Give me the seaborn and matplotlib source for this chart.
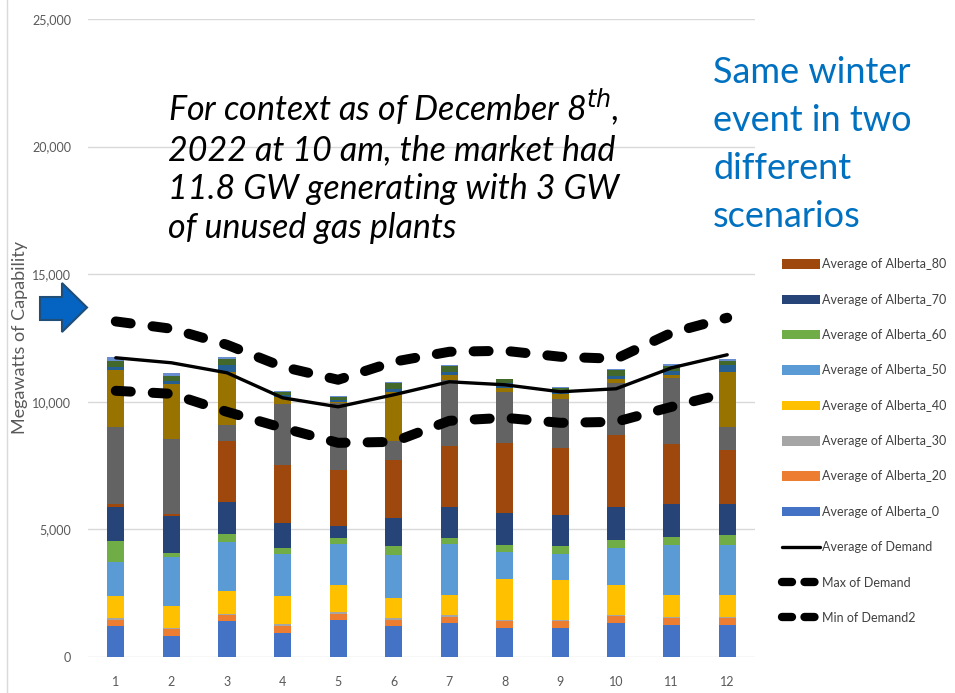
import numpy as np
import pandas as pd
import matplotlib
matplotlib.use("Agg")
import matplotlib.pyplot as plt
import seaborn as sns
from matplotlib.patches import Patch, Polygon
from matplotlib.lines import Line2D

# month numbers on the x axis
months = list(range(1, 13))

# stacked capability layers (MW), bottom to top
alberta_0 = [1216, 836, 1399, 954, 1464, 1216, 1333, 1150, 1150, 1333, 1268, 1268]
alberta_20 = [248, 261, 235, 261, 235, 248, 235, 248, 248, 261, 261, 261]
alberta_30 = [78, 52, 65, 65, 65, 65, 65, 65, 65, 39, 39, 39]
alberta_40 = [837, 863, 876, 1098, 1046, 797, 810, 1595, 1542, 1176, 876, 876]
alberta_50 = [1346, 1895, 1948, 1673, 1608, 1660, 1974, 1046, 1046, 1477, 1961, 1961]
alberta_60 = [810, 183, 314, 235, 235, 366, 235, 301, 288, 314, 301, 366]
alberta_70 = [1346, 1425, 1229, 980, 497, 1111, 1229, 1242, 1242, 1281, 1307, 1242]
alberta_80 = [131, 78, 2405, 2274, 2170, 2274, 2392, 2758, 2627, 2836, 2327, 2091]
# further layers shown in the bars but not in the (cropped) legend
extra_9 = [3006, 2941, 614, 2392, 2614, 732, 2575, 1987, 1921, 2026, 2601, 915]
extra_10 = [2222, 2157, 2091, 261, 39, 1921, 196, 131, 196, 131, 105, 2157]
extra_11 = [131, 131, 248, 65, 91, 131, 131, 196, 65, 131, 170, 248]
extra_12 = [235, 183, 235, 131, 131, 222, 235, 157, 170, 235, 183, 170]
extra_13 = [131, 105, 78, 26, 26, 39, 26, 26, 26, 26, 78, 65]

# demand lines (MW)
avg_demand = [11725, 11529, 11137, 10157, 9804, 10275, 10784, 10667, 10392, 10510, 11333, 11843]
max_demand = [13149, 12863, 12235, 11373, 10863, 11569, 11961, 12000, 11765, 11686, 12706, 13294]
min_demand = [10431, 10314, 9608, 8980, 8392, 8431, 9255, 9373, 9176, 9216, 9804, 10353]

layer_names = ["Average of Alberta_0", "Average of Alberta_20", "Average of Alberta_30",
               "Average of Alberta_40", "Average of Alberta_50", "Average of Alberta_60",
               "Average of Alberta_70", "Average of Alberta_80",
               "extra_9", "extra_10", "extra_11", "extra_12", "extra_13"]
layer_values = [alberta_0, alberta_20, alberta_30, alberta_40, alberta_50, alberta_60,
                alberta_70, alberta_80, extra_9, extra_10, extra_11, extra_12, extra_13]
layer_colors = ["#4472C4", "#ED7D31", "#A5A5A5", "#FFC000", "#5B9BD5", "#70AD47",
                "#264478", "#9E480E", "#636363", "#997300", "#255E91", "#43682B", "#698ED0"]

df = pd.DataFrame({"month": months})
for name, vals in zip(layer_names, layer_values):
    df[name] = vals
cum = df[layer_names].cumsum(axis=1)

sns.set_style("white")
plt.rcParams["font.family"] = ["Lato", "DejaVu Sans"]

fig = plt.figure(figsize=(9.55, 6.93), dpi=100)
W, H = 955, 693
ax = fig.add_axes([88 / W, 1 - 657 / H, (755 - 88) / W, (657 - 19) / H])

# stacked bars: draw cumulative totals from the top layer down
for name, color in reversed(list(zip(layer_names, layer_colors))):
    sns.barplot(x=df["month"], y=cum[name], color=color, saturation=1, width=0.31,
                native_scale=True, errorbar=None, linewidth=0, ax=ax, zorder=2)

dash = (0, (1.5, 2.2))
sns.lineplot(x=months, y=avg_demand, color="black", linewidth=2.4, ax=ax, zorder=4)
for series in (max_demand, min_demand):
    sns.lineplot(x=months, y=series, color="black", linewidth=7.2, linestyle=dash,
                 dash_capstyle="round", ax=ax, zorder=4)

ax.set_xlim(0.5, 12.5)
ax.set_ylim(0, 25000)
ax.set_xticks(months)
ax.set_xticklabels([str(m) for m in months])
ax.set_yticks(range(0, 25001, 5000))
ax.set_yticklabels([f"{v:,}" for v in range(0, 25001, 5000)])
ax.grid(axis="y", color="#D9D9D9", linewidth=1)
ax.set_axisbelow(True)
for s in ax.spines.values():
    s.set_visible(False)
ax.tick_params(axis="both", length=0, colors="#595959", labelsize=9)
ax.tick_params(axis="y", pad=12)
ax.tick_params(axis="x", pad=14)
ax.set_xlabel("")
ax.set_ylabel("Megawatts of Capability", color="#595959", fontsize=13)
ax.yaxis.set_label_coords(-60 / 667, 0.5)

# legend (only the eight named layers + demand lines)
handles = []
labels = []
for i in range(7, -1, -1):
    handles.append(Patch(facecolor=layer_colors[i], edgecolor="none"))
    labels.append(layer_names[i])
handles.append(Line2D([], [], color="black", linewidth=2.4))
labels.append("Average of Demand")
for lbl in ("Max of Demand", "Min of Demand2"):
    handles.append(Line2D([], [], color="black", linewidth=6.0, linestyle=(0, (1.2, 1.5)),
                          dash_capstyle="round"))
    labels.append(lbl)
leg = fig.legend(handles, labels, loc="upper left", bbox_to_anchor=(771 / W, 1 - 247 / H),
                 frameon=False, handlelength=3.0, handleheight=0.8,
                 labelspacing=1.87, handletextpad=0.2,
                 prop={"family": ["Lato", "DejaVu Sans"], "size": 9})
for t in leg.get_texts():
    t.set_color("#404040")

# annotation texts
fig.text(168 / W, 1 - 86 / H,
         "For context as of December 8$^{th}$,\n2022 at 10 am, the market had\n"
         "11.8 GW generating with 3 GW\nof unused gas plants",
         fontsize=24.5, style="italic", color="black", va="top", ha="left", linespacing=1.26)
fig.text(713 / W, 1 - 56 / H, "Same winter\nevent in two\ndifferent\nscenarios",
         fontsize=26, color="#0070C0", va="top", ha="left", linespacing=1.55)

# blue arrow pointing at the chart
arrow_px = [(40, 297), (62, 297), (62, 283), (87, 307.5), (62, 332), (62, 320), (40, 320)]
fig.add_artist(Polygon([(x / W, 1 - y / H) for x, y in arrow_px], closed=True,
                       facecolor="#0563C1", edgecolor="#1F4E79", linewidth=1.5,
                       transform=fig.transFigure))
# slide edge line at the far left
fig.add_artist(Line2D([7 / W, 7 / W], [0, 1], color="#D9D9D9", linewidth=1,
                      transform=fig.transFigure))

fig.savefig("out.png", dpi=100)
